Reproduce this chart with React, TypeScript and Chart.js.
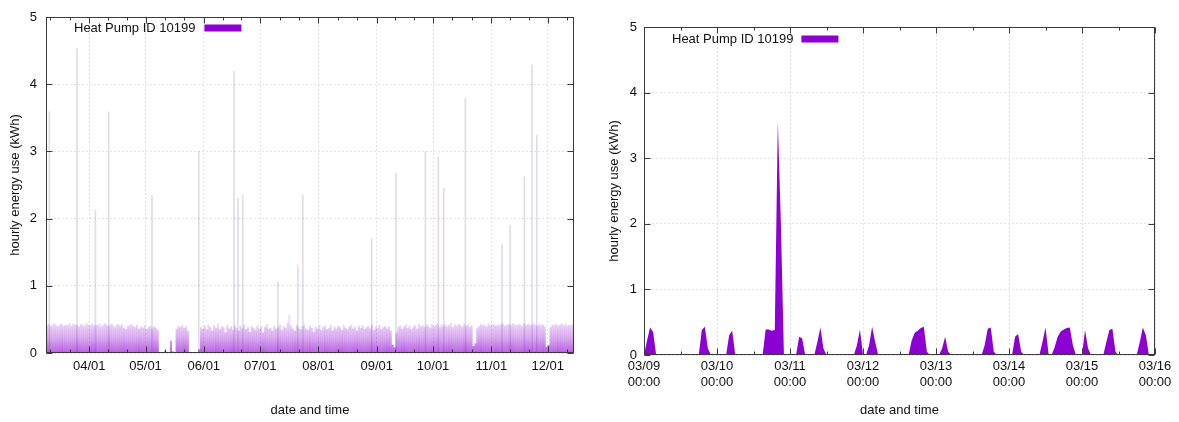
import React, { useEffect, useRef } from 'react';
import { Chart, registerables } from 'chart.js';

Chart.register(...registerables);

const SERIES_LABEL = 'Heat Pump ID 10199';
const FILL = 'rgb(140,0,210)';
const FONT_FAMILY = '"Liberation Sans", Arial, Helvetica, sans-serif';
const TEXT = '#111';
const GRID = '#e2e2e2';

// ---- Season view: x = days since 03/09 00:00 ----
const SEASON_END_DAY = 281;
const SEASON_TICK_DAYS = [23, 53, 84, 114, 145, 176, 206, 237, 267];
const SEASON_TICK_LABELS = ['04/01', '05/01', '06/01', '07/01', '08/01', '09/01', '10/01', '11/01', '12/01'];
// month starts bracketing the range (03/01 and 01/01), used for the minor tick marks
const SEASON_EDGE_DAYS = [-8, 298];

// daily peak of the regular heating cycles (kWh), one value per day from 03/09
const DAILY_PEAK_KWH = [
  0.41, 0.43, 0.40, 0.42, 0.44, 0.41, 0.39, 0.42, 0.43, 0.40,
  0.42, 0.41, 0.44, 0.40, 0.43, 0.42, 0.41, 0.39, 0.43, 0.42,
  0.40, 0.44, 0.42, 0.41, 0.43, 0.40, 0.42, 0.41, 0.43, 0.39,
  0.42, 0.44, 0.41, 0.40, 0.43, 0.42, 0.38, 0.41, 0.43, 0.40,
  0.42, 0.37, 0.35, 0.39, 0.41, 0.43, 0.40, 0.38, 0.42, 0.36,
  0.39, 0.37, 0.41, 0.35, 0.38, 0.40, 0.36, 0.39, 0.37, 0.34,
  0.00, 0.00, 0.00, 0.03, 0.00, 0.00, 0.18, 0.02, 0.00, 0.36,
  0.40, 0.38, 0.41, 0.37, 0.39, 0.33, 0.00, 0.00, 0.00, 0.00,
  0.00, 0.05, 0.38, 0.36, 0.40, 0.35, 0.42, 0.38, 0.33, 0.41,
  0.37, 0.43, 0.35, 0.40, 0.38, 0.30, 0.42, 0.36, 0.39, 0.34,
  0.41, 0.37, 0.33, 0.40, 0.36, 0.42, 0.35, 0.38, 0.31, 0.40,
  0.37, 0.34, 0.41, 0.36, 0.39, 0.30, 0.38, 0.42, 0.35, 0.37,
  0.33, 0.40, 0.36, 0.38, 0.42, 0.34, 0.39, 0.37, 0.45, 0.56,
  0.40, 0.36, 0.33, 0.41, 0.38, 0.35, 0.39, 0.42, 0.36, 0.34,
  0.40, 0.37, 0.31, 0.39, 0.36, 0.41, 0.34, 0.38, 0.40, 0.35,
  0.37, 0.42, 0.33, 0.39, 0.36, 0.40, 0.38, 0.34, 0.41, 0.37,
  0.35, 0.39, 0.42, 0.36, 0.38, 0.33, 0.40, 0.37, 0.41, 0.35,
  0.38, 0.40, 0.36, 0.42, 0.34, 0.39, 0.37, 0.41, 0.35, 0.38,
  0.40, 0.36, 0.39, 0.33, 0.12, 0.08, 0.30, 0.38, 0.41, 0.36,
  0.39, 0.42, 0.37, 0.40, 0.35, 0.38, 0.41, 0.36, 0.43, 0.39,
  0.41, 0.38, 0.42, 0.40, 0.37, 0.43, 0.39, 0.41, 0.44, 0.38,
  0.42, 0.40, 0.43, 0.39, 0.41, 0.44, 0.38, 0.42, 0.40, 0.43,
  0.41, 0.39, 0.43, 0.40, 0.42, 0.38, 0.41, 0.10, 0.14, 0.36,
  0.40, 0.43, 0.41, 0.42, 0.39, 0.44, 0.41, 0.42, 0.43, 0.40,
  0.42, 0.41, 0.44, 0.43, 0.40, 0.42, 0.43, 0.41, 0.44, 0.42,
  0.41, 0.43, 0.42, 0.40, 0.44, 0.41, 0.43, 0.42, 0.41, 0.44,
  0.42, 0.40, 0.43, 0.41, 0.42, 0.39, 0.09, 0.12, 0.38, 0.42,
  0.41, 0.43, 0.40, 0.42, 0.44, 0.41, 0.43, 0.40, 0.42, 0.41,
  0.43,
];

// isolated single-hour peaks (day offset from 03/09, kWh)
const SPIKE_DAYS = [1.8, 16.5, 26.3, 33.4, 56.4, 81.3, 100.1, 102.2, 104.7, 123.4, 134.0, 136.7,
  173.3, 186.3, 201.9, 208.8, 211.7, 223.2, 242.7, 247.0, 254.6, 258.7, 261.2];
const SPIKE_KWH = [3.59, 4.53, 2.13, 3.59, 2.35, 3.00, 4.19, 2.30, 2.35, 1.06, 1.31, 2.35,
  1.71, 2.68, 3.00, 2.92, 2.45, 3.79, 1.61, 1.90, 2.62, 4.29, 3.24];

// ---- Week view: x = hours since 03/09 00:00 ----
const WEEK_HOURS = 168;
const WEEK_TICK_LABELS = [
  ['03/09', '00:00'], ['03/10', '00:00'], ['03/11', '00:00'], ['03/12', '00:00'],
  ['03/13', '00:00'], ['03/14', '00:00'], ['03/15', '00:00'], ['03/16', '00:00'],
];
// hourly energy use (kWh), 00:00 .. 23:00 of each day
const KWH_0309 = [0, 0.22, 0.42, 0.35, 0, 0, 0, 0, 0, 0, 0, 0, 0, 0, 0, 0, 0, 0, 0, 0.38, 0.43, 0.10, 0, 0];
const KWH_0310 = [0, 0, 0, 0, 0.30, 0.37, 0, 0, 0, 0, 0, 0, 0, 0, 0, 0, 0.39, 0.39, 0.37, 0.38, 3.56, 2.00, 0, 0];
const KWH_0311 = [0, 0, 0, 0.28, 0.25, 0, 0, 0, 0, 0.20, 0.42, 0.10, 0, 0, 0, 0, 0, 0, 0, 0, 0, 0, 0.15, 0.39];
const KWH_0312 = [0, 0, 0.15, 0.43, 0.20, 0, 0, 0, 0, 0, 0, 0, 0, 0, 0, 0, 0.22, 0.34, 0.37, 0.41, 0.43, 0.05, 0, 0];
const KWH_0313 = [0, 0, 0.10, 0.28, 0.05, 0, 0, 0, 0, 0, 0, 0, 0, 0, 0, 0, 0.15, 0.40, 0.42, 0.05, 0, 0, 0, 0];
const KWH_0314 = [0, 0, 0.28, 0.32, 0.05, 0, 0, 0, 0, 0, 0, 0.20, 0.42, 0.02, 0, 0.12, 0.28, 0.36, 0.39, 0.41, 0.42, 0.15, 0, 0];
const KWH_0315 = [0, 0.38, 0.10, 0, 0, 0, 0, 0, 0.20, 0.38, 0.40, 0.05, 0, 0, 0, 0, 0, 0, 0, 0.20, 0.42, 0.30, 0, 0];
const KWH_0316 = [0];

const WEEK_KWH = [...KWH_0309, ...KWH_0310, ...KWH_0311, ...KWH_0312, ...KWH_0313, ...KWH_0314, ...KWH_0315, ...KWH_0316];

const font13 = { family: FONT_FAMILY, size: 13 };

// border box with inward tick marks, drawn over the data
const framePlugin = {
  id: 'frame',
  afterDatasetsDraw(chart: any, _args: any, opts: any) {
    const { ctx, chartArea: a, scales } = chart;
    const xs = scales.x;
    const ys = scales.y;
    const L = Math.round(a.left) + 0.5;
    const R = Math.round(a.right) - 0.5;
    const T = Math.round(a.top) + 0.5;
    const B = Math.round(a.bottom) - 0.5;
    ctx.save();
    ctx.strokeStyle = '#3a3a3a';
    ctx.lineWidth = 1;
    ctx.beginPath();
    ys.ticks.forEach((t: any) => {
      const py = Math.round(ys.getPixelForValue(t.value)) + 0.5;
      ctx.moveTo(L, py); ctx.lineTo(L + 6, py);
      ctx.moveTo(R, py); ctx.lineTo(R - 6, py);
    });
    xs.ticks.forEach((t: any) => {
      const px = Math.round(xs.getPixelForValue(t.value)) + 0.5;
      ctx.moveTo(px, B); ctx.lineTo(px, B - 6);
      ctx.moveTo(px, T); ctx.lineTo(px, T + 6);
    });
    (opts.minor || []).forEach((v: number) => {
      const px = Math.round(xs.getPixelForValue(v)) + 0.5;
      ctx.moveTo(px, B); ctx.lineTo(px, B - 3);
      ctx.moveTo(px, T); ctx.lineTo(px, T + 3);
    });
    ctx.stroke();
    ctx.strokeRect(L, T, R - L, B - T);
    ctx.restore();
  },
};

// key: label text followed by a filled swatch
const keyPlugin = {
  id: 'key',
  afterDraw(chart: any, _args: any, opts: any) {
    const { ctx, chartArea: a } = chart;
    ctx.save();
    ctx.font = `13px ${FONT_FAMILY}`;
    ctx.fillStyle = TEXT;
    ctx.textAlign = 'left';
    ctx.textBaseline = 'middle';
    const tx = a.left + opts.dx;
    const ty = a.top + opts.dy;
    ctx.fillText(opts.text, tx, ty);
    const w = ctx.measureText(opts.text).width;
    ctx.fillStyle = opts.color;
    ctx.fillRect(tx + w + opts.gap, ty - 3.5, 37, 7);
    ctx.restore();
  },
};

function yScale(width: number, labelPad: number, titlePad: number) {
  return {
    min: 0,
    max: 5,
    ticks: { stepSize: 1, padding: labelPad, font: font13, color: TEXT },
    grid: { color: GRID, drawTicks: false },
    border: { display: false, dash: [2, 2] },
    title: {
      display: true,
      text: 'hourly energy use (kWh)',
      font: font13,
      color: TEXT,
      padding: { top: titlePad, bottom: 0 },
    },
    afterFit: (s: any) => { s.width = width; },
  };
}

function xScale(min: number, max: number, tickValues: number[], labels: any[], height: number, labelPad: number) {
  return {
    type: 'linear',
    min,
    max,
    offset: false,
    afterBuildTicks: (s: any) => { s.ticks = tickValues.map((v) => ({ value: v })); },
    ticks: {
      autoSkip: false,
      maxRotation: 0,
      padding: labelPad,
      font: font13,
      color: TEXT,
      callback: (v: number) => {
        const i = tickValues.indexOf(v);
        return i >= 0 ? labels[i] : '';
      },
    },
    grid: { color: GRID, drawTicks: false, offset: false },
    border: { display: false, dash: [2, 2] },
    title: {
      display: true,
      text: 'date and time',
      font: font13,
      color: TEXT,
      padding: { top: 0, bottom: 4 },
    },
    afterFit: (s: any) => { s.height = height; },
  };
}

function seasonMinorTicks(): number[] {
  const edges = [SEASON_EDGE_DAYS[0], ...SEASON_TICK_DAYS, SEASON_EDGE_DAYS[1]];
  const out: number[] = [];
  for (let i = 0; i < edges.length - 1; i++) {
    const span = edges[i + 1] - edges[i];
    [1 / 3, 2 / 3].forEach((f) => {
      const v = edges[i] + span * f;
      if (v > 0 && v < SEASON_END_DAY) out.push(v);
    });
  }
  return out;
}

function bandGradient(c: any) {
  const chart = c.chart;
  if (!chart.chartArea) return 'rgba(140,0,210,0.4)';
  const ys = chart.scales.y;
  const g = chart.ctx.createLinearGradient(0, ys.getPixelForValue(0), 0, ys.getPixelForValue(0.45));
  g.addColorStop(0, 'rgba(140,0,210,0.62)');
  g.addColorStop(0.5, 'rgba(140,0,210,0.32)');
  g.addColorStop(1, 'rgba(140,0,210,0.14)');
  return g;
}

export default function App() {
  const seasonRef = useRef<HTMLCanvasElement>(null);
  const weekRef = useRef<HTMLCanvasElement>(null);

  useEffect(() => {
    const season = new Chart(seasonRef.current as HTMLCanvasElement, {
      type: 'bar',
      data: {
        datasets: [
          {
            label: SERIES_LABEL,
            data: DAILY_PEAK_KWH.map((v, i) => ({ x: i + 0.5, y: v })),
            backgroundColor: bandGradient,
            borderWidth: 0,
            barThickness: 1.4,
            grouped: false,
          } as any,
          {
            label: SERIES_LABEL,
            data: SPIKE_DAYS.map((d, i) => ({ x: d, y: SPIKE_KWH[i] })),
            backgroundColor: 'rgba(120,95,150,0.22)',
            borderWidth: 0,
            barThickness: 1,
            grouped: false,
          } as any,
        ],
      },
      options: {
        responsive: false,
        animation: false,
        events: [],
        layout: { padding: { top: 17, right: 16, left: 0, bottom: 0 } },
        plugins: {
          legend: { display: false },
          tooltip: { enabled: false },
          frame: { minor: seasonMinorTicks() },
          key: { text: SERIES_LABEL, color: FILL, dx: 28, dy: 11, gap: 9 },
        } as any,
        scales: {
          x: xScale(0, SEASON_END_DAY, SEASON_TICK_DAYS, SEASON_TICK_LABELS, 69, 6) as any,
          y: yScale(46, 9, 8) as any,
        },
      },
      plugins: [framePlugin, keyPlugin],
    });

    const weekTicks = WEEK_TICK_LABELS.map((_, i) => i * 24);
    const weekMinor = weekTicks.slice(0, -1).map((v) => v + 12);
    const week = new Chart(weekRef.current as HTMLCanvasElement, {
      type: 'line',
      data: {
        datasets: [
          {
            label: SERIES_LABEL,
            data: WEEK_KWH.map((v, i) => ({ x: i, y: v })),
            fill: 'origin',
            backgroundColor: FILL,
            borderColor: FILL,
            borderWidth: 0,
            pointRadius: 0,
            tension: 0,
          },
        ],
      },
      options: {
        responsive: false,
        animation: false,
        events: [],
        layout: { padding: { top: 27, right: 24, left: 0, bottom: 0 } },
        plugins: {
          legend: { display: false },
          tooltip: { enabled: false },
          frame: { minor: weekMinor },
          key: { text: SERIES_LABEL, color: FILL, dx: 28, dy: 12, gap: 8 },
        } as any,
        scales: {
          x: xScale(0, WEEK_HOURS, weekTicks, WEEK_TICK_LABELS, 67, 4) as any,
          y: yScale(54, 7, 17) as any,
        },
      },
      plugins: [framePlugin, keyPlugin],
    });

    return () => {
      season.destroy();
      week.destroy();
    };
  }, []);

  return (
    <div style={{ position: 'absolute', left: 0, top: 0, width: 1179, height: 422, background: '#fff' }}>
      <canvas ref={seasonRef} width={590} height={422} style={{ position: 'absolute', left: 0, top: 0 }} />
      <canvas ref={weekRef} width={589} height={422} style={{ position: 'absolute', left: 590, top: 0 }} />
    </div>
  );
}
